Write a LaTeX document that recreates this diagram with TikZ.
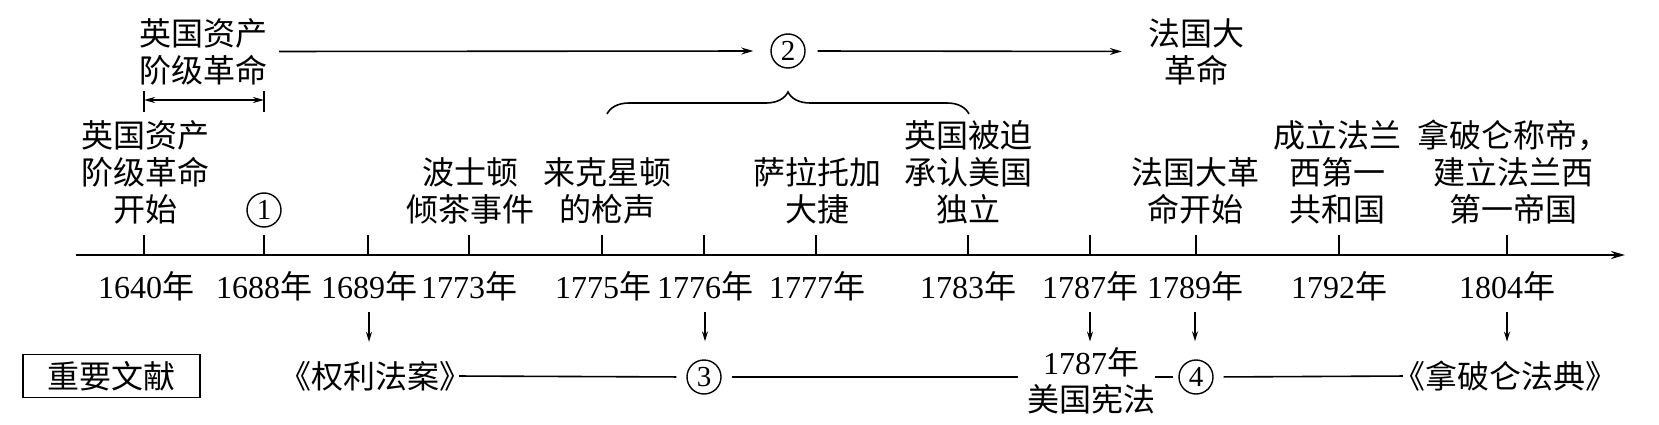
\documentclass[tikz,border=0pt]{standalone}
\usepackage{fontspec}
\setmainfont{Liberation Serif}
\newfontfamily\cjk{Noto Sans CJK SC}
\newfontfamily\cjkh[RawFeature=+halt]{Noto Sans CJK SC}
\usetikzlibrary{arrows.meta,decorations.pathreplacing}
\newcommand\nian{{\cjk 年}}
\begin{document}
\begin{tikzpicture}[x=1pt,y=-1pt,
  tip/.style={-{Stealth[length=12pt,width=7pt]}},
  dtip/.style={-{Stealth[length=10pt,width=6pt]}},
  lbl/.style={inner sep=0pt, align=center, font=\fontsize{32}{37}\selectfont\cjk},
  yr/.style={inner sep=0pt, font=\fontsize{32}{36}\selectfont},
  num/.style={circle, draw, line width=1.4pt, inner sep=0pt, minimum size=34pt, font=\fontsize{29}{29}\selectfont},
  conn/.style={line width=1.6pt},
  tick/.style={line width=2pt},
]
\useasboundingbox (0,0) rectangle (1659,425);
% axis
\coordinate (ax0) at (76,255);
\coordinate (ax1) at (1625,255);
\draw[line width=2.2pt, -{Stealth[length=14pt,width=8pt]}] (ax0) -- (ax1);
\foreach \x in {144,264,368,469,602,704,816,968,1090,1196,1339,1507}
  \draw[tick] (\x,255) -- (\x,235);

% top row
\node[lbl] (ylgm) at (203,51.5) {英国资产\\阶级革命};
\node[num] (c2) at (788,51) {2};
\node[lbl] (fgdgm) at (1196,51.5) {法国大\\革命};
\draw[conn, tip, shorten <=12pt, shorten >=17pt] (ylgm.east) -- (c2.west);
\draw[conn, tip, shorten <=12pt, shorten >=26pt] (c2.east) -- (fgdgm.west);

% span arrow
\coordinate (s0t) at (144,91); \coordinate (s0b) at (144,112);
\coordinate (s1t) at (264,91); \coordinate (s1b) at (264,112);
\coordinate (s0m) at (144,100); \coordinate (s1m) at (264,100);
\draw[line width=1.5pt] (s0t) -- (s0b) (s1t) -- (s1b);
\draw[conn, {Stealth[length=11pt,width=6pt]}-{Stealth[length=11pt,width=6pt]}] (s0m) -- (s1m);

% brace
\coordinate (b0) at (607,114); \coordinate (b1) at (969,114);
\draw[line width=1.6pt, decorate, decoration={brace, amplitude=22pt}] (b0) -- (b1);

% labels above axis
\node[lbl] (l1640) at (145,172) {英国资产\\阶级革命\\开始};
\node[num] (c1) at (264,210) {1};
\node[lbl] (l1773) at (470,190.5) {波士顿\\倾茶事件};
\node[lbl] (l1775) at (607,190.5) {来克星顿\\的枪声};
\node[lbl] (l1777) at (817,190.5) {萨拉托加\\大捷};
\node[lbl] (l1783) at (968,172) {英国被迫\\承认美国\\独立};
\node[lbl] (l1789) at (1195,190.5) {法国大革\\命开始};
\node[lbl] (l1792) at (1337,172) {成立法兰\\西第一\\共和国};
\node[lbl] (l1804) at (1513,172) {拿破仑称帝，\\建立法兰西\\第一帝国};

% years
\node[yr] (y1640) at (146,286) {1640\nian};
\node[yr] (y1688) at (264,286) {1688\nian};
\node[yr] (y1689) at (369,286) {1689\nian};
\node[yr] (y1773) at (469,286) {1773\nian};
\node[yr] (y1775) at (603,286) {1775\nian};
\node[yr] (y1776) at (705,286) {1776\nian};
\node[yr] (y1777) at (817,286) {1777\nian};
\node[yr] (y1783) at (968,286) {1783\nian};
\node[yr] (y1787) at (1090,286) {1787\nian};
\node[yr] (y1789) at (1195,286) {1789\nian};
\node[yr] (y1792) at (1339,286) {1792\nian};
\node[yr] (y1804) at (1507,286) {1804\nian};

% bottom row
\node[draw, line width=1.5pt, minimum width=177pt, minimum height=43pt, inner sep=0pt,
  font=\fontsize{32}{36}\selectfont\cjk] (zywx) at (111.5,376) {重要文献};
\node[lbl] (bill) at (375,376) {{\cjkh 《}权利法案{\cjkh 》}};
\node[num] (c3) at (704,377) {3};
\node[lbl] (us) at (1091,381) {{\rmfamily 1787}年\\美国宪法};
\node[num] (c4) at (1196,377) {4};
\node[lbl] (code) at (1505,376) {{\cjkh 《}拿破仑法典{\cjkh 》}};

\draw[conn, shorten <=4pt, shorten >=10pt] (bill.east) -- (c3.west);
\draw[conn, shorten <=10pt, shorten >=9pt] (c3.east) -- (c3.east -| us.west);
\draw[conn, shorten >=5pt] (us.east |- c4.west) -- (c4.west);
\draw[conn, shorten <=10pt, shorten >=6pt] (c4.east) -- (code.west);

% down arrows
\draw[conn, dtip, shorten <=11pt, shorten >=19pt] (y1689.south) -- (y1689.south |- bill.north);
\draw[conn, dtip, shorten <=11pt, shorten >=18pt] (y1776.south) -- (y1776.south |- c3.north);
\draw[conn, dtip, shorten <=11pt, shorten >=6pt] (y1787.south) -- (y1787.south |- us.north);
\draw[conn, dtip, shorten <=11pt, shorten >=18pt] (y1789.south) -- (y1789.south |- c4.north);
\draw[conn, dtip, shorten <=11pt, shorten >=19pt] (y1804.south) -- (y1804.south |- code.north);
\end{tikzpicture}
\end{document}
